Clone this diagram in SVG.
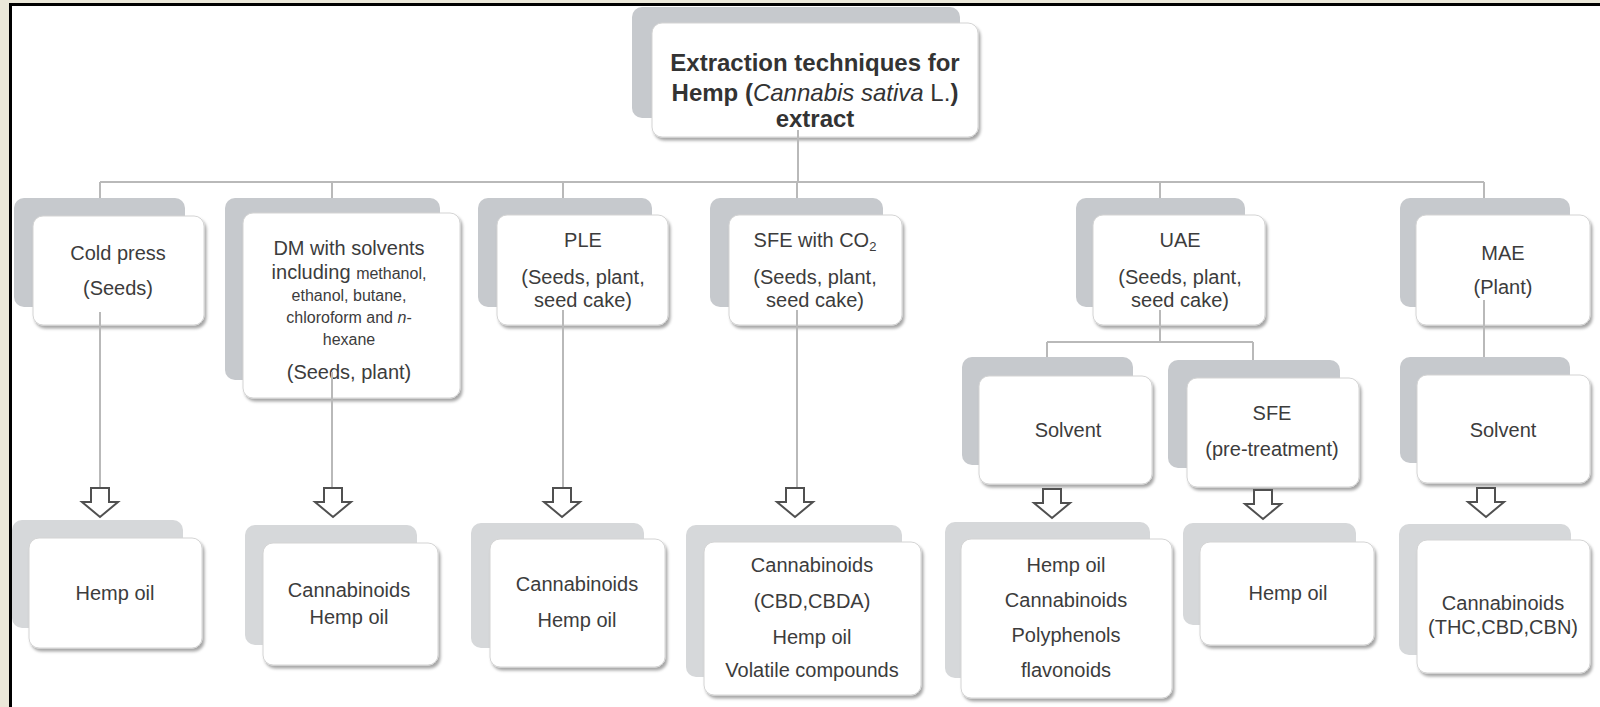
<svg xmlns="http://www.w3.org/2000/svg" width="1600" height="707" viewBox="0 0 1600 707">
<style>
.back{fill:#c6c9cd}
.backl{fill:#d6d8da}
.front{fill:#ffffff;stroke:#d4d4d4;stroke-width:1;filter:url(#sh)}
.t{font-family:"Liberation Sans",Arial,sans-serif;font-size:20px;fill:#3c3c3c;text-anchor:middle}
.s{font-size:16px}
.b{font-weight:bold;font-size:24px;fill:#333}
.ln{stroke:#b9b9b9;stroke-width:2;fill:none}
.ar{fill:#ffffff;stroke:#505050;stroke-width:2;stroke-linejoin:miter}
</style>
<defs>
<filter id="sh" x="-10%" y="-10%" width="125%" height="130%">
<feDropShadow dx="2" dy="3" stdDeviation="1.8" flood-color="#000" flood-opacity="0.35"/>
</filter>
</defs>
<rect x="0" y="0" width="1600" height="707" fill="#ebe8d9"/>
<rect x="10.5" y="4.5" width="1600" height="710" fill="#ffffff" stroke="#000" stroke-width="3"/>

<g id="n-top">
<rect class="back" x="632" y="7" width="328" height="111" rx="10"/>
<rect class="front" x="652" y="23" width="326" height="114" rx="10"/>
<text class="t b" x="815" y="71">Extraction techniques for</text>
<text class="t b" x="815" y="101">Hemp (<tspan font-style="italic" font-weight="normal">Cannabis sativa</tspan><tspan font-weight="normal"> L.</tspan>)</text>
<text class="t b" x="815" y="127">extract</text>
</g>

<g id="n-cold">
<rect class="back" x="14" y="198" width="171" height="109" rx="10"/>
<rect class="front" x="33" y="216" width="171" height="109" rx="10"/>
<text class="t" x="118" y="260">Cold press</text>
<text class="t" x="118" y="295">(Seeds)</text>
</g>

<g id="n-dm">
<rect class="back" x="225" y="198" width="215" height="182" rx="10"/>
<rect class="front" x="243" y="213" width="217" height="185" rx="10"/>
<text class="t" x="349" y="255">DM with solvents</text>
<text class="t" x="349" y="279">including <tspan class="s">methanol,</tspan></text>
<text class="t s" x="349" y="301">ethanol, butane,</text>
<text class="t s" x="349" y="323">chloroform and <tspan font-style="italic">n</tspan>-</text>
<text class="t s" x="349" y="345">hexane</text>
<text class="t" x="349" y="379">(Seeds, plant)</text>
</g>

<g id="n-ple">
<rect class="back" x="478" y="198" width="174" height="109" rx="10"/>
<rect class="front" x="497" y="215" width="171" height="110" rx="10"/>
<text class="t" x="583" y="247">PLE</text>
<text class="t" x="583" y="284">(Seeds, plant,</text>
<text class="t" x="583" y="307">seed cake)</text>
</g>

<g id="n-sfe">
<rect class="back" x="710" y="198" width="173" height="109" rx="10"/>
<rect class="front" x="729" y="215" width="173" height="110" rx="10"/>
<text class="t" x="815" y="247">SFE with CO<tspan font-size="13" dy="4">2</tspan></text>
<text class="t" x="815" y="284">(Seeds, plant,</text>
<text class="t" x="815" y="307">seed cake)</text>
</g>

<g id="n-uae">
<rect class="back" x="1076" y="198" width="169" height="109" rx="10"/>
<rect class="front" x="1093" y="215" width="172" height="110" rx="10"/>
<text class="t" x="1180" y="247">UAE</text>
<text class="t" x="1180" y="284">(Seeds, plant,</text>
<text class="t" x="1180" y="307">seed cake)</text>
</g>

<g id="n-mae">
<rect class="back" x="1400" y="198" width="170" height="109" rx="10"/>
<rect class="front" x="1416" y="215" width="174" height="110" rx="10"/>
<text class="t" x="1503" y="260">MAE</text>
<text class="t" x="1503" y="294">(Plant)</text>
</g>

<g id="n-uae-solvent">
<rect class="back" x="962" y="357" width="171" height="108" rx="10"/>
<rect class="front" x="979" y="376" width="173" height="108" rx="10"/>
<text class="t" x="1068" y="437">Solvent</text>
</g>

<g id="n-uae-sfe">
<rect class="back" x="1168" y="360" width="172" height="108" rx="10"/>
<rect class="front" x="1187" y="378" width="172" height="109" rx="10"/>
<text class="t" x="1272" y="420">SFE</text>
<text class="t" x="1272" y="456">(pre-treatment)</text>
</g>

<g id="n-mae-solvent">
<rect class="back" x="1400" y="357" width="170" height="106" rx="10"/>
<rect class="front" x="1417" y="375" width="173" height="108" rx="10"/>
<text class="t" x="1503" y="437">Solvent</text>
</g>

<g id="r-cold">
<rect class="backl" x="12" y="520" width="171" height="108" rx="10"/>
<rect class="front" x="29" y="538" width="173" height="110" rx="10"/>
<text class="t" x="115" y="600">Hemp oil</text>
</g>

<g id="r-dm">
<rect class="backl" x="245" y="525" width="172" height="120" rx="10"/>
<rect class="front" x="263" y="543" width="175" height="122" rx="10"/>
<text class="t" x="349" y="597">Cannabinoids</text>
<text class="t" x="349" y="624">Hemp oil</text>
</g>

<g id="r-ple">
<rect class="backl" x="471" y="523" width="173" height="125" rx="10"/>
<rect class="front" x="490" y="539" width="175" height="128" rx="10"/>
<text class="t" x="577" y="591">Cannabinoids</text>
<text class="t" x="577" y="627">Hemp oil</text>
</g>

<g id="r-sfe">
<rect class="backl" x="686" y="525" width="216" height="152" rx="10"/>
<rect class="front" x="704" y="542" width="217" height="153" rx="10"/>
<text class="t" x="812" y="572">Cannabinoids</text>
<text class="t" x="812" y="608">(CBD,CBDA)</text>
<text class="t" x="812" y="644">Hemp oil</text>
<text class="t" x="812" y="677">Volatile compounds</text>
</g>

<g id="r-uae-solvent">
<rect class="backl" x="945" y="522" width="205" height="156" rx="10"/>
<rect class="front" x="961" y="539" width="211" height="159" rx="10"/>
<text class="t" x="1066" y="572">Hemp oil</text>
<text class="t" x="1066" y="607">Cannabinoids</text>
<text class="t" x="1066" y="642">Polyphenols</text>
<text class="t" x="1066" y="677">flavonoids</text>
</g>

<g id="r-uae-sfe">
<rect class="backl" x="1183" y="523" width="173" height="102" rx="10"/>
<rect class="front" x="1200" y="542" width="174" height="103" rx="10"/>
<text class="t" x="1288" y="600">Hemp oil</text>
</g>

<g id="r-mae">
<rect class="backl" x="1399" y="524" width="172" height="131" rx="10"/>
<rect class="front" x="1417" y="540" width="173" height="133" rx="10"/>
<text class="t" x="1503" y="610">Cannabinoids</text>
<text class="t" x="1503" y="634">(THC,CBD,CBN)</text>
</g>

<g id="connectors">
<path class="ln" d="M798 130V182M100 182H1484M100 182V198M332 182V198M563 182V198M797 182V198M1160 182V198M1484 182V198"/>
<path class="ln" d="M100 312V488M332 372V488M563 310V488M797 310V488"/>
<path class="ln" d="M1160 310V342M1047 342H1253M1047 342V357M1253 342V360M1484 300V357"/>
<path class="ar" d="M91 488H109V502H118L100 517L82 502H91Z"/>
<path class="ar" d="M324 488H342V502H351L333 517L315 502H324Z"/>
<path class="ar" d="M553 488H571V502H580L562 517L544 502H553Z"/>
<path class="ar" d="M786 488H804V502H813L795 517L777 502H786Z"/>
<path class="ar" d="M1043 489H1061V503H1070L1052 518L1034 503H1043Z"/>
<path class="ar" d="M1254 490H1272V504H1281L1263 519L1245 504H1254Z"/>
<path class="ar" d="M1477 488H1495V502H1504L1486 517L1468 502H1477Z"/>
</g>
</svg>
